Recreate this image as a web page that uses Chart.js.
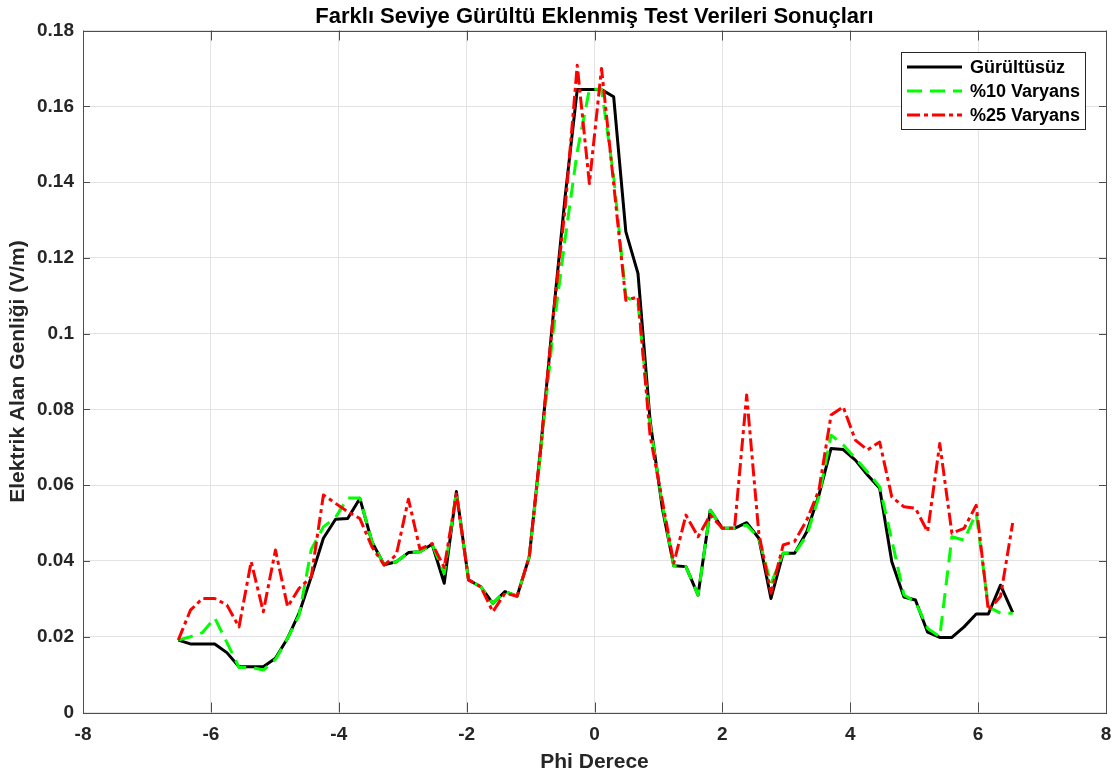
<!DOCTYPE html>
<html>
<head>
<meta charset="utf-8">
<script src="https://cdn.jsdelivr.net/npm/chart.js@4/dist/chart.umd.min.js"></script>
<style>
  html, body { margin: 0; padding: 0; background: #fff; }
  #wrap { width: 1112px; height: 778px; }
</style>
</head>
<body>
<div id="wrap"><canvas id="chart" width="1112" height="778"></canvas></div>
<script>
// Phi values (degrees) shared by all three curves
const phi = [
  -6.51, -6.32, -6.13, -5.94, -5.75, -5.56, -5.37, -5.18, -4.99, -4.80,
  -4.62, -4.43, -4.24, -4.05, -3.86, -3.67, -3.48, -3.29, -3.10, -2.91,
  -2.73, -2.54, -2.35, -2.16, -1.97, -1.78, -1.59, -1.40, -1.21, -1.02,
  -0.84, -0.65, -0.46, -0.27, -0.08, 0.11, 0.30, 0.49, 0.68, 0.87,
  1.06, 1.24, 1.43, 1.62, 1.81, 2.00, 2.19, 2.38, 2.57, 2.76,
  2.95, 3.13, 3.32, 3.51, 3.70, 3.89, 4.08, 4.27, 4.46, 4.65,
  4.84, 5.02, 5.21, 5.40, 5.59, 5.78, 5.97, 6.16, 6.35, 6.54
];

// Noise-free result
const gurultusuz = [
  0.0191, 0.0181, 0.0181, 0.0181, 0.0158, 0.0121, 0.0121, 0.0121, 0.0143, 0.0196,
  0.0262, 0.0358, 0.0460, 0.0510, 0.0512, 0.0565, 0.0450, 0.0390, 0.0398, 0.0422,
  0.0424, 0.0444, 0.0341, 0.0583, 0.0350, 0.0332, 0.0288, 0.0319, 0.0307, 0.0411,
  0.0700, 0.1040, 0.1360, 0.1644, 0.1644, 0.1644, 0.1625, 0.1269, 0.1159, 0.0770,
  0.0540, 0.0387, 0.0385, 0.0310, 0.0534, 0.0486, 0.0486, 0.0501, 0.0460, 0.0301,
  0.0420, 0.0420, 0.0477, 0.0574, 0.0697, 0.0694, 0.0666, 0.0627, 0.0592, 0.0398,
  0.0305, 0.0297, 0.0212, 0.0198, 0.0198, 0.0226, 0.0260, 0.0260, 0.0336, 0.0264
];

// 10 % variance noise
const varyans10 = [
  0.0191, 0.0200, 0.0211, 0.0250, 0.0185, 0.0119, 0.0119, 0.0112, 0.0140, 0.0196,
  0.0257, 0.0430, 0.0490, 0.0515, 0.0566, 0.0566, 0.0450, 0.0390, 0.0398, 0.0422,
  0.0424, 0.0444, 0.0367, 0.0580, 0.0350, 0.0332, 0.0288, 0.0319, 0.0307, 0.0411,
  0.0690, 0.1000, 0.1250, 0.1480, 0.1645, 0.1645, 0.1414, 0.1097, 0.1080, 0.0760,
  0.0550, 0.0387, 0.0385, 0.0310, 0.0534, 0.0486, 0.0486, 0.0495, 0.0460, 0.0340,
  0.0420, 0.0420, 0.0468, 0.0570, 0.0732, 0.0706, 0.0671, 0.0635, 0.0596, 0.0455,
  0.0310, 0.0292, 0.0222, 0.0200, 0.0464, 0.0455, 0.0526, 0.0279, 0.0262, 0.0262
];

// 25 % variance noise
const varyans25 = [
  0.0191, 0.0270, 0.0301, 0.0301, 0.0284, 0.0226, 0.0398, 0.0266, 0.0429, 0.0279,
  0.0328, 0.0358, 0.0574, 0.0552, 0.0530, 0.0512, 0.0437, 0.0389, 0.0416, 0.0563,
  0.0431, 0.0446, 0.0383, 0.0577, 0.0350, 0.0332, 0.0266, 0.0315, 0.0307, 0.0411,
  0.0700, 0.1040, 0.1330, 0.1708, 0.1396, 0.1700, 0.1395, 0.1088, 0.1097, 0.0730,
  0.0560, 0.0394, 0.0521, 0.0464, 0.0521, 0.0486, 0.0486, 0.0838, 0.0473, 0.0315,
  0.0442, 0.0452, 0.0508, 0.0587, 0.0785, 0.0807, 0.0719, 0.0693, 0.0714, 0.0569,
  0.0543, 0.0539, 0.0477, 0.0710, 0.0473, 0.0486, 0.0547, 0.0270, 0.0306, 0.0500
];

const FONT = '"Liberation Sans", Arial, Helvetica, sans-serif';
const toPoints = ys => phi.map((x, i) => ({ x: x, y: ys[i] }));

// Box around the plot plus inward tick marks on all four sides
const axesBox = {
  id: 'axesBox',
  afterDatasetsDraw(chart) {
    const { ctx, chartArea: a, scales } = chart;
    ctx.save();
    ctx.strokeStyle = '#4d4d4d';
    ctx.lineWidth = 1;
    ctx.strokeRect(Math.round(a.left) + 0.5, Math.round(a.top) + 0.5,
      Math.round(a.right - a.left), Math.round(a.bottom - a.top));
    ctx.beginPath();
    scales.x.ticks.forEach(t => {
      const px = Math.round(scales.x.getPixelForValue(t.value)) + 0.5;
      ctx.moveTo(px, a.bottom); ctx.lineTo(px, a.bottom - 10);
      ctx.moveTo(px, a.top); ctx.lineTo(px, a.top + 10);
    });
    scales.y.ticks.forEach(t => {
      const py = Math.round(scales.y.getPixelForValue(t.value)) + 0.5;
      ctx.moveTo(a.left, py); ctx.lineTo(a.left + 7, py);
      ctx.moveTo(a.right, py); ctx.lineTo(a.right - 7, py);
    });
    ctx.stroke();
    ctx.restore();
  }
};

// Legend box in the upper right corner, drawn with each line's own style
const legendBox = {
  id: 'legendBox',
  afterDraw(chart) {
    const { ctx, chartArea } = chart;
    const w = 184, h = 77;
    const left = Math.round(chartArea.right - 21 - w);
    const top = Math.round(chartArea.top + 21);
    ctx.save();
    ctx.fillStyle = '#ffffff';
    ctx.fillRect(left, top, w, h);
    ctx.strokeStyle = '#262626';
    ctx.lineWidth = 1;
    ctx.strokeRect(left + 0.5, top + 0.5, w, h);
    ctx.font = 'bold 18px ' + FONT;
    ctx.textBaseline = 'middle';
    chart.data.datasets.forEach((ds, i) => {
      const y = top + 15 + i * 24;
      ctx.beginPath();
      ctx.setLineDash(ds.borderDash || []);
      ctx.strokeStyle = ds.borderColor;
      ctx.lineWidth = ds.borderWidth;
      ctx.moveTo(left + 6, y);
      ctx.lineTo(left + 61, y);
      ctx.stroke();
      ctx.setLineDash([]);
      ctx.fillStyle = '#000000';
      ctx.fillText(ds.label, left + 69, y + 1);
    });
    ctx.restore();
  }
};

new Chart(document.getElementById('chart'), {
  type: 'line',
  data: {
    datasets: [
      {
        label: 'Gürültüsüz',
        data: toPoints(gurultusuz),
        borderColor: '#000000',
        borderWidth: 3,
        order: 3
      },
      {
        label: '%10 Varyans',
        data: toPoints(varyans10),
        borderColor: '#00ff00',
        borderWidth: 3,
        borderDash: [15, 8],
        order: 2
      },
      {
        label: '%25 Varyans',
        data: toPoints(varyans25),
        borderColor: '#ff0000',
        borderWidth: 3,
        borderDash: [13, 4, 4, 4],
        order: 1
      }
    ]
  },
  options: {
    responsive: false,
    animation: false,
    layout: { padding: { top: 0, right: 6, bottom: 0, left: 0 } },
    elements: {
      point: { radius: 0, hoverRadius: 0 },
      line: { tension: 0, fill: false, borderJoinStyle: 'round' }
    },
    plugins: {
      legend: { display: false },
      tooltip: { enabled: false },
      title: {
        display: true,
        fullSize: false,
        text: 'Farklı Seviye Gürültü Eklenmiş Test Verileri Sonuçları',
        color: '#000000',
        font: { family: FONT, size: 22, weight: 'bold' },
        padding: { top: 3.5, bottom: 0.6 }
      }
    },
    scales: {
      x: {
        type: 'linear',
        min: -8,
        max: 8,
        grid: { color: '#e3e3e3', drawTicks: false },
        border: { display: false },
        ticks: {
          stepSize: 2,
          padding: 11,
          color: '#262626',
          font: { family: FONT, size: 19, weight: 'bold' }
        },
        title: {
          display: true,
          text: 'Phi Derece',
          color: '#262626',
          font: { family: FONT, size: 21, weight: 'bold' },
          padding: { top: 0, bottom: 3 }
        },
        afterFit: s => { s.height = 65.5; s.paddingLeft = 0; s.paddingRight = 0; }
      },
      y: {
        min: 0,
        max: 0.18,
        grid: { color: '#e3e3e3', drawTicks: false },
        border: { display: false },
        ticks: {
          stepSize: 0.02,
          padding: 9,
          color: '#262626',
          font: { family: FONT, size: 19, weight: 'bold' },
          callback: v => String(Number(v.toFixed(2)))
        },
        title: {
          display: true,
          text: 'Elektrik Alan Genliği (V/m)',
          color: '#262626',
          font: { family: FONT, size: 21, weight: 'bold' },
          padding: { top: 6, bottom: 0 }
        },
        afterFit: s => { s.width = 83; s.paddingTop = 0; s.paddingBottom = 0; }
      }
    }
  },
  plugins: [axesBox, legendBox]
});
</script>
</body>
</html>
